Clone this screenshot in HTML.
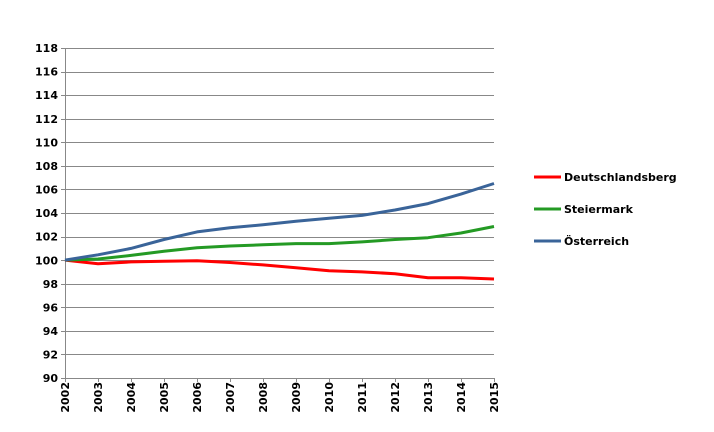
<!DOCTYPE html>
<html><head><meta charset="utf-8"><style>
body{margin:0;background:#fff;}
svg{display:block;font-family:"DejaVu Sans",Verdana,sans-serif;font-weight:bold;font-size:11px;}
</style></head><body>
<svg id="s" width="714" height="432" xmlns="http://www.w3.org/2000/svg">
<g id="grid" stroke="#888" stroke-width="1"></g>
<g fill="#000" text-anchor="end">
<text x="58" y="52">118</text><text x="58" y="75.6">116</text><text x="58" y="99.2">114</text><text x="58" y="122.8">112</text><text x="58" y="146.4">110</text><text x="58" y="170">108</text><text x="58" y="193.5">106</text><text x="58" y="217.1">104</text><text x="58" y="240.7">102</text><text x="58" y="264.3">100</text><text x="58" y="287.9">98</text><text x="58" y="311.5">96</text><text x="58" y="335">94</text><text x="58" y="358.6">92</text><text x="58" y="382.2">90</text>
</g>
<g fill="#000" text-anchor="end">
<text transform="translate(69,382) rotate(-90)">2002</text>
<text transform="translate(102,382) rotate(-90)">2003</text>
<text transform="translate(135,382) rotate(-90)">2004</text>
<text transform="translate(168,382) rotate(-90)">2005</text>
<text transform="translate(201,382) rotate(-90)">2006</text>
<text transform="translate(234,382) rotate(-90)">2007</text>
<text transform="translate(267,382) rotate(-90)">2008</text>
<text transform="translate(300,382) rotate(-90)">2009</text>
<text transform="translate(333,382) rotate(-90)">2010</text>
<text transform="translate(366,382) rotate(-90)">2011</text>
<text transform="translate(399,382) rotate(-90)">2012</text>
<text transform="translate(432,382) rotate(-90)">2013</text>
<text transform="translate(465,382) rotate(-90)">2014</text>
<text transform="translate(498,382) rotate(-90)">2015</text>
</g>
<g id="lines" fill="none" stroke-width="3" stroke-linejoin="round"></g>
<line x1="534" y1="177" x2="561" y2="177" stroke="#ff0000" stroke-width="3"/>
<line x1="534" y1="209" x2="561" y2="209" stroke="#249a24" stroke-width="3"/>
<line x1="534" y1="241" x2="561" y2="241" stroke="#3a6499" stroke-width="3"/>
<text x="564" y="181">Deutschlandsberg</text>
<text x="564" y="213">Steiermark</text>
<text x="564" y="245">Österreich</text>
</svg>
<script>
var ns="http://www.w3.org/2000/svg";
function y(v){return 378-(v-90)*11.786;}
var g=document.getElementById("grid");
function ln(x1,y1,x2,y2){var l=document.createElementNS(ns,"line");l.setAttribute("x1",x1);l.setAttribute("y1",y1);l.setAttribute("x2",x2);l.setAttribute("y2",y2);g.appendChild(l);}
for(var v=90;v<=118;v+=2){var yy=Math.round(y(v))+0.5;ln(61,yy,494,yy);}
ln(65.5,48,65.5,378);
for(var i=0;i<14;i++){var xx=Math.round(65+i*33)+0.5;ln(xx,378,xx,382);}
var data=[["#ff0000",[100,99.7,99.85,99.9,99.95,99.8,99.6,99.35,99.1,99.0,98.85,98.5,98.5,98.4]],
["#249a24",[100,100.1,100.4,100.75,101.05,101.2,101.3,101.4,101.4,101.55,101.75,101.9,102.3,102.85]],
["#3a6499",[100,100.45,101.0,101.75,102.4,102.75,103.0,103.3,103.55,103.8,104.25,104.8,105.6,106.5]]];
var L=document.getElementById("lines");
data.forEach(function(d){var p=document.createElementNS(ns,"polyline");p.setAttribute("stroke",d[0]);p.setAttribute("points",d[1].map(function(v,i){return (65+i*33)+","+y(v).toFixed(1);}).join(" "));L.appendChild(p);});
</script>
</body></html>
